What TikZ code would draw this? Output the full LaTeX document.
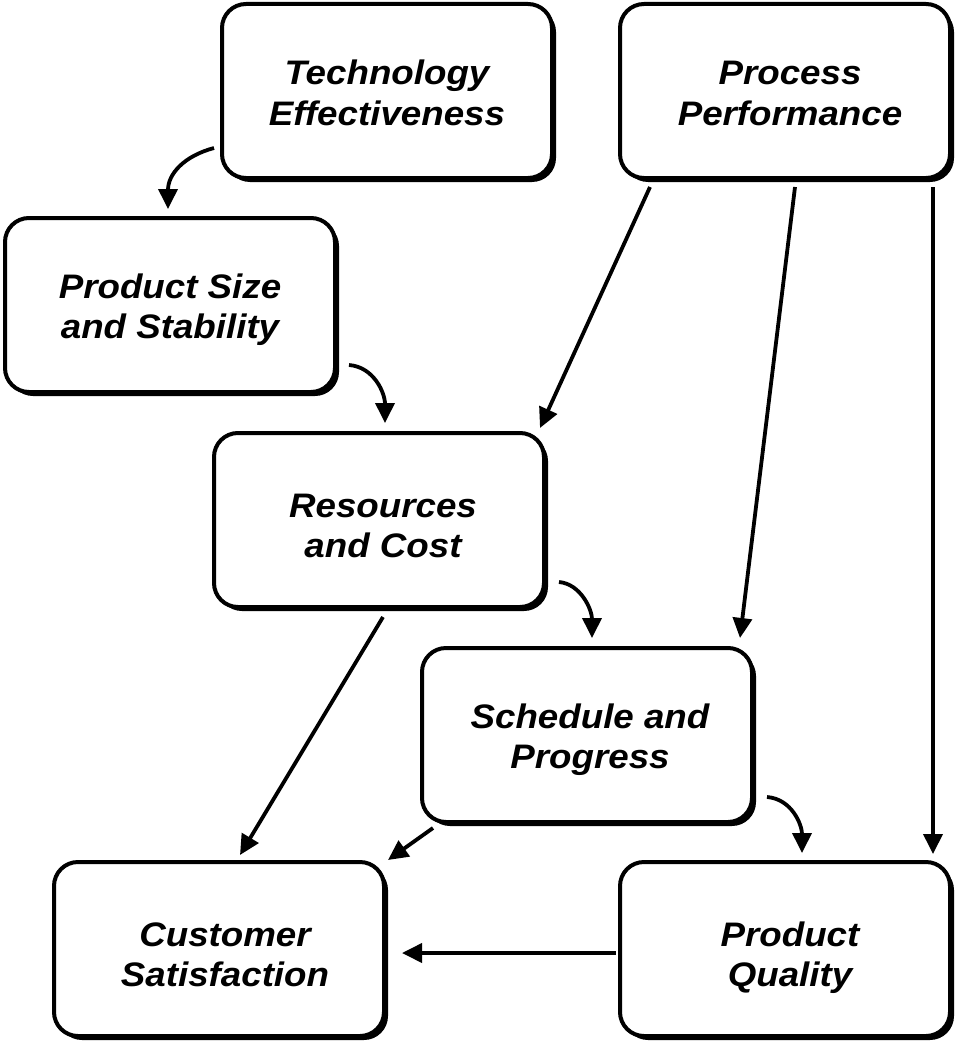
\documentclass[tikz,border=0pt]{standalone}
\usepackage{fontspec}
\setmainfont{Liberation Sans}
\newfontfamily\boxfont[FakeStretch=1.08]{Liberation Sans}
\usetikzlibrary{arrows.meta,shadows,calc}
% #1: twice the horizontal shift, #2: downward shift
\newcommand{\boxtext}[3]{\hspace*{#1}\raisebox{-#2}[\height][\depth]{\begin{tabular}{@{}c@{}}#3\end{tabular}}}
\tikzset{
  box/.style={draw=black, line width=4pt, rounded corners=24pt, fill=white,
    minimum width=330pt, minimum height=174pt, inner sep=0pt,
    font=\boxfont\fontsize{34}{40}\selectfont\bfseries\itshape,
    drop shadow={shadow xshift=4pt, shadow yshift=-4pt, opacity=1, fill=black}},
  conn/.style={line width=3.8pt, -{Triangle[length=20pt,width=19pt]}}
}
\begin{document}
\begin{tikzpicture}[x=1pt,y=-1pt]
\useasboundingbox (0,0) rectangle (961,1046);
\node[box] (tech) at (387,91) {\boxtext{0pt}{6pt}{Technology\\Effectiveness}};
\node[box] (pp) at (785,91) {\boxtext{10pt}{6pt}{Process\\Performance}};
\node[box] (ps) at (170,305) {\boxtext{0pt}{5.5pt}{Product Size\\and Stability}};
\node[box] (rc) at (379,520) {\boxtext{8pt}{9.5pt}{Resources\\and Cost}};
\node[box] (sp) at (587,735) {\boxtext{6pt}{5pt}{Schedule and\\Progress}};
\node[box] (cs) at (219,949) {\boxtext{12pt}{9.5pt}{Customer\\Satisfaction}};
\node[box] (pq) at (785,949) {\boxtext{10pt}{9.5pt}{Product\\Quality}};

\draw[conn] ($(tech.west)+(-6,57)$) .. controls +(-30,8) and +(0,-35) .. ($(ps.north)+(-2,-7)$);
\draw[conn] ($(ps.east)+(12,60)$) .. controls +(25,2) and +(0,-30) .. ($(rc.north)+(6,-8)$);
\draw[conn] ($(rc.east)+(13,62)$) .. controls +(22,2) and +(0,-28) .. ($(sp.north)+(5,-8)$);
\draw[conn] ($(sp.east)+(13,62)$) .. controls +(25,2) and +(0,-28) .. ($(pq.north)+(17,-7)$);
\draw[conn] ($(pp.south)+(-135,7)$) -- ($(rc.north)+(161,-3)$);
\draw[conn] ($(pp.south)+(10,7)$) -- ($(sp.north)+(153,-8)$);
\draw[conn] ($(pp.south)+(148,7)$) -- ($(pq.north)+(148,-6)$);
\draw[conn] ($(rc.south)+(4,8)$) -- ($(cs.north)+(21,-5)$);
\draw[conn] ($(sp.south)+(-154,4)$) -- ($(cs.north)+(169,0)$);
\draw[conn] ($(pq.west)+(-2,4)$) -- ($(cs.east)+(16,4)$);
\end{tikzpicture}
\end{document}
